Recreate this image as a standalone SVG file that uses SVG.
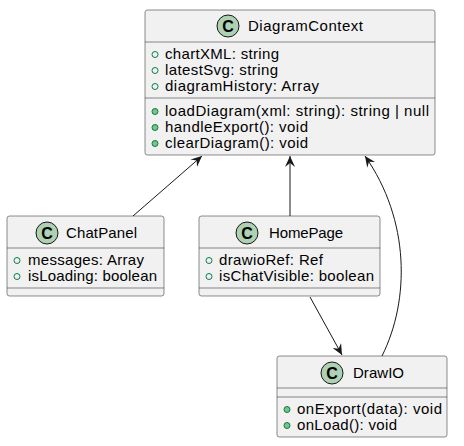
<svg xmlns="http://www.w3.org/2000/svg" width="464" height="446" viewBox="0 0 464 446">
<style>
.box{fill:#F1F1F1;stroke:#181818;stroke-width:0.5}
.sep{stroke:#181818;stroke-width:0.5}
.circ{fill:#ADD1B2;stroke:#181818;stroke-width:1}
.cl{font-family:"Liberation Sans",Arial,sans-serif;font-size:15px;fill:#000}
.c{font-family:"Liberation Sans",Arial,sans-serif;font-size:16px;font-weight:bold;fill:#000;text-anchor:middle}
.t{font-family:"Liberation Sans",Arial,sans-serif;font-size:15px;fill:#000}
.va{fill:none;stroke:#038048;stroke-width:1}
.vm{fill:#84BE84;stroke:#038048;stroke-width:1}
.ln{fill:none;stroke:#181818;stroke-width:1}
</style>
<defs>
<marker id="ah" viewBox="0 0 12 10" refX="11" refY="5" markerWidth="12" markerHeight="10" markerUnits="userSpaceOnUse" orient="auto">
<path d="M0,0 L11,5 L0,10 L4,5 Z" fill="#181818"/>
</marker>
</defs>
<g id="connectors">
<line class="ln" x1="133" y1="216" x2="202" y2="156" marker-end="url(#ah)"/>
<line class="ln" x1="290" y1="216" x2="290" y2="156" marker-end="url(#ah)"/>
<path class="ln" d="M382,356 C410,300 410,220 365,156" marker-end="url(#ah)"/>
<line class="ln" x1="310" y1="297" x2="342" y2="355" marker-end="url(#ah)"/>
</g>
<g id="DiagramContext">
<rect class="box" x="145" y="10" width="290" height="145" rx="2.5"/>
<circle class="circ" cx="228" cy="26" r="11"/>
<text class="c" x="228" y="31.5">C</text>
<text class="cl" x="248" y="31" textLength="115">DiagramContext</text>
<line class="sep" x1="145" y1="42" x2="435" y2="42"/>
<circle class="va" cx="155" cy="54.5" r="3"/>
<text class="t" x="165" y="59" textLength="114">chartXML: string</text>
<circle class="va" cx="155" cy="70.5" r="3"/>
<text class="t" x="165" y="75" textLength="113">latestSvg: string</text>
<circle class="va" cx="155" cy="86.5" r="3"/>
<text class="t" x="165" y="91" textLength="154">diagramHistory: Array</text>
<line class="sep" x1="145" y1="98" x2="435" y2="98"/>
<circle class="vm" cx="155" cy="111.5" r="3"/>
<text class="t" x="165" y="116" textLength="264">loadDiagram(xml: string): string | null</text>
<circle class="vm" cx="155" cy="127.5" r="3"/>
<text class="t" x="165" y="132" textLength="143">handleExport(): void</text>
<circle class="vm" cx="155" cy="143.5" r="3"/>
<text class="t" x="165" y="148" textLength="143">clearDiagram(): void</text>
</g>
<g id="ChatPanel">
<rect class="box" x="7" y="216" width="157" height="80" rx="2.5"/>
<circle class="circ" cx="47" cy="233" r="11"/>
<text class="c" x="47" y="238.5">C</text>
<text class="cl" x="66" y="238" textLength="71">ChatPanel</text>
<line class="sep" x1="7" y1="248" x2="164" y2="248"/>
<circle class="va" cx="17" cy="260.5" r="3"/>
<text class="t" x="28" y="265" textLength="116">messages: Array</text>
<circle class="va" cx="17" cy="276.5" r="3"/>
<text class="t" x="28" y="281" textLength="129">isLoading: boolean</text>
<line class="sep" x1="7" y1="288" x2="164" y2="288"/>
</g>
<g id="HomePage">
<rect class="box" x="199" y="216" width="181" height="80" rx="2.5"/>
<circle class="circ" cx="247" cy="233" r="11"/>
<text class="c" x="247" y="238.5">C</text>
<text class="cl" x="269" y="238" textLength="74">HomePage</text>
<line class="sep" x1="199" y1="248" x2="380" y2="248"/>
<circle class="va" cx="209" cy="260.5" r="3"/>
<text class="t" x="219" y="265" textLength="104">drawioRef: Ref</text>
<circle class="va" cx="209" cy="276.5" r="3"/>
<text class="t" x="219" y="281" textLength="155">isChatVisible: boolean</text>
<line class="sep" x1="199" y1="288" x2="380" y2="288"/>
</g>
<g id="DrawIO">
<rect class="box" x="277" y="356" width="170" height="81" rx="2.5"/>
<circle class="circ" cx="332" cy="373" r="11"/>
<text class="c" x="332" y="378.5">C</text>
<text class="cl" x="353" y="378" textLength="51">DrawIO</text>
<line class="sep" x1="277" y1="388" x2="447" y2="388"/>
<line class="sep" x1="277" y1="397" x2="447" y2="397"/>
<circle class="vm" cx="287" cy="409.5" r="3"/>
<text class="t" x="297" y="414" textLength="145">onExport(data): void</text>
<circle class="vm" cx="287" cy="425.5" r="3"/>
<text class="t" x="297" y="430" textLength="100">onLoad(): void</text>
</g>
</svg>
